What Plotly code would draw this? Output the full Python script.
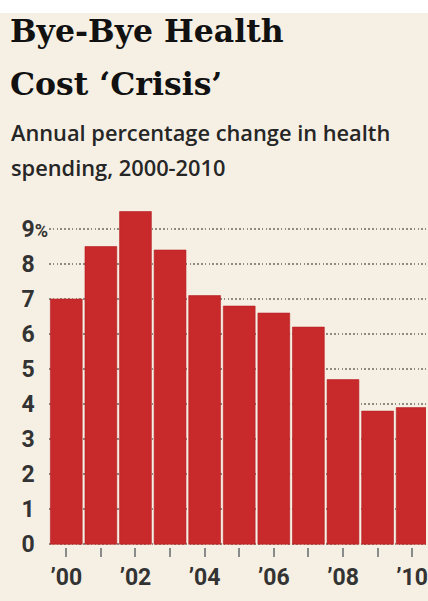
import plotly.graph_objects as go

years = [2000, 2001, 2002, 2003, 2004, 2005, 2006, 2007, 2008, 2009, 2010]
values = [7.0, 8.5, 9.5, 8.4, 7.1, 6.8, 6.6, 6.2, 4.7, 3.8, 3.9]
x_tick_labels = ["’00", "", "’02", "", "’04", "", "’06", "", "’08", "", "’10"]
y_tick_vals = [0, 1, 2, 3, 4, 5, 6, 7, 8, 9]
y_tick_labels = ["0", "1", "2", "3", "4", "5", "6", "7", "8", "9%"]

title_lines = ["Bye-Bye Health", "Cost ‘Crisis’"]
subtitle_lines = ["Annual percentage change in health", "spending, 2000-2010"]

W, H = 428, 601
ML, MR, MT = 49, 0, 208
Y0, Y1 = -0.08, 9.6
PX_PER_UNIT = 35
plot_h = (Y1 - Y0) * PX_PER_UNIT
MB = H - MT - plot_h
plot_w = W - ML - MR

BG = "#f6f0e4"
BAR = "#c8292b"
TXT = "#333333"


def px_to_paper_x(px):
    return (px - ML) / plot_w


def px_to_paper_y(py):
    return (H - MB - py) / plot_h


def fmt_y(lbl):
    if lbl.endswith("%"):
        return lbl[:-1] + "<span style='font-size:18px'>%</span>"
    return lbl + "<span style='font-size:18px;fill-opacity:0'>%</span>"


fig = go.Figure()
fig.add_trace(go.Bar(
    x=years, y=values,
    marker=dict(color=BAR, line=dict(color="#b32024", width=0.6)),
    hoverinfo="skip",
))

annotations = []
for i, line in enumerate(title_lines):
    annotations.append(dict(
        text=line, xref="paper", yref="paper",
        x=px_to_paper_x(8), y=px_to_paper_y(31 + i * 52.5),
        xanchor="left", yanchor="middle", showarrow=False,
        font=dict(family="DejaVu Serif, Liberation Serif, serif", size=31.5, color="#111111", weight="bold"),
    ))
for i, line in enumerate(subtitle_lines):
    annotations.append(dict(
        text=line, xref="paper", yref="paper",
        x=px_to_paper_x(9), y=px_to_paper_y(133 + i * 35),
        xanchor="left", yanchor="middle", showarrow=False,
        font=dict(family="Open Sans", size=21.8, color="#262626", weight=600),
    ))

fig.update_layout(
    width=W, height=H,
    margin=dict(l=ML, r=MR, t=MT, b=MB, pad=0),
    paper_bgcolor=BG, plot_bgcolor=BG,
    showlegend=False,
    bargap=0.08,
    annotations=annotations,
    shapes=[dict(type="rect", xref="paper", yref="paper",
                 x0=px_to_paper_x(-5), x1=px_to_paper_x(W + 5),
                 y0=px_to_paper_y(13), y1=px_to_paper_y(-5),
                 fillcolor="white", line=dict(width=0), layer="above")],
    xaxis=dict(
        range=[1999.5, 2010.4],
        tickmode="array", tickvals=years, ticktext=x_tick_labels,
        ticks="outside", ticklen=9, tickwidth=1.5, tickcolor="#8a8a8a",
        ticklabeloverflow="allow",
        showgrid=False, zeroline=False, showline=False,
        tickfont=dict(family="Roboto", size=23, color=TXT, weight="bold"),
        fixedrange=True,
    ),
    yaxis=dict(
        range=[Y0, Y1],
        tickmode="array", tickvals=y_tick_vals, ticktext=[fmt_y(t) for t in y_tick_labels],
        ticks="", showline=False, zeroline=False,
        showgrid=True, gridcolor="#8f8a82", gridwidth=1.6, griddash="1.6px,2.2px",
        tickfont=dict(family="Roboto", size=23, color=TXT, weight="bold"),
        fixedrange=True,
    ),
)

fig.write_html("out.html", config={"displayModeBar": False})
